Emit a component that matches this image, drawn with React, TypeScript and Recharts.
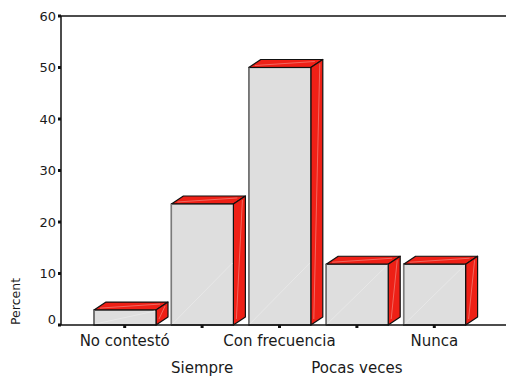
import { BarChart, Bar, XAxis, YAxis, ReferenceLine } from "recharts";

const categories = ["No contestó", "Siempre", "Con frecuencia", "Pocas veces", "Nunca"];
const percents = [2.9, 23.5, 50, 11.8, 11.8];
const yTicks = [0, 10, 20, 30, 40, 50, 60];

const data = categories.map((name, i) => ({ name, percent: percents[i] }));

const FONT = "'DejaVu Sans', sans-serif";
const TEXT = "#1a1a1a";
const DX = 12;
const DY = 8;

// extruded box, drawn from the rectangle the bar scale hands over
function Box3D({ x, y, width, height }: any) {
  const r = x + width;
  const b = y + height;
  return (
    <g>
      <polygon points={`${x},${y} ${x + DX},${y - DY} ${r + DX},${y - DY} ${r},${y}`} fill="#ee2016" stroke="#111" strokeWidth={1.2} strokeLinejoin="round" />
      <polygon points={`${r},${y} ${r + DX},${y - DY} ${r + DX},${b - DY} ${r},${b}`} fill="#ee2016" stroke="#111" strokeWidth={1.2} strokeLinejoin="round" />
      <rect x={x} y={y} width={width} height={height} fill="#dedede" stroke="#111" strokeWidth={1.2} />
      <line x1={x} y1={y} x2={x} y2={b} stroke="#7a7a7a" strokeWidth={1.4} />
      {/* faint sheen lines */}
      <line x1={x + 1} y1={b - 1} x2={r - 1} y2={Math.max(y + 1, b - width)} stroke="#e8e8e8" strokeWidth={1} />
      <line x1={x + 6} y1={y - 2} x2={r + 4} y2={y - 6} stroke="#f2675e" strokeWidth={1} />
      <line x1={r + 3} y1={b - 6} x2={r + 9} y2={y - 4} stroke="#f2675e" strokeWidth={1} />
    </g>
  );
}

function CategoryTick({ x, y, payload, index }: any) {
  return (
    <text x={x} y={index % 2 === 0 ? y + 15.5 : y + 42.5} textAnchor="middle" fontFamily={FONT} fontSize={15} fill={TEXT}>
      {payload.value}
    </text>
  );
}

// the zero label sits a little above its tick in the original
function ValueTick({ x, y, payload }: any) {
  return (
    <text x={x} y={payload.value === 0 ? y - 1.5 : y + 4.5} textAnchor="end" fontFamily={FONT} fontSize={13} fill={TEXT}>
      {payload.value}
    </text>
  );
}

export default function App() {
  return (
    <div style={{ position: "absolute", left: 0, top: 0, width: 506, height: 377, background: "#fff" }}>
      <BarChart width={506} height={377} data={data} margin={{ top: 16, right: 0, bottom: 0, left: 0 }}>
        <XAxis
          dataKey="name"
          height={52}
          interval={0}
          padding={{ left: 25, right: 33 }}
          axisLine={{ stroke: "#111", strokeWidth: 1.5 }}
          tickLine={{ stroke: "#111", strokeWidth: 3 }}
          tickSize={3}
          tick={<CategoryTick />}
        />
        <YAxis
          width={61}
          domain={[0, 60]}
          ticks={yTicks}
          axisLine={{ stroke: "#111", strokeWidth: 1.5 }}
          tickLine={{ stroke: "#111", strokeWidth: 3 }}
          tickSize={3}
          tick={<ValueTick />}
          label={{ value: "Percent", angle: -90, position: "insideBottomLeft", offset: 0, dx: 20, fill: TEXT, fontSize: 12.5, fontFamily: FONT }}
        />
        <ReferenceLine y={60} stroke="#111" strokeWidth={1.5} />
        <Bar dataKey="percent" barSize={62} shape={<Box3D />} isAnimationActive={false} />
      </BarChart>
    </div>
  );
}
